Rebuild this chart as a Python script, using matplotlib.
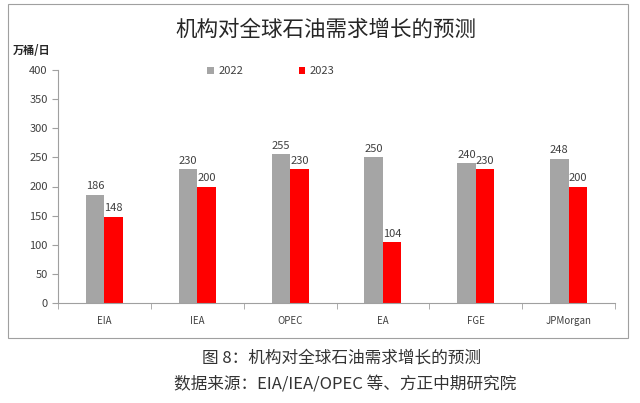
import numpy as np
import matplotlib.pyplot as plt
from matplotlib.patches import Rectangle

plt.rcParams['font.family'] = ['Noto Sans CJK SC', 'DejaVu Sans']

categories = ["EIA", "IEA", "OPEC", "EA", "FGE", "JPMorgan"]
y2022 = [186, 230, 255, 250, 240, 248]
y2023 = [148, 200, 230, 104, 230, 200]
yticks = [0, 50, 100, 150, 200, 250, 300, 350, 400]

fig = plt.figure(figsize=(6.4, 4.03), dpi=100)
# chart frame
fig.patches.append(Rectangle((8 / 640, 1 - 338 / 403), 620 / 640, 334 / 403,
                             transform=fig.transFigure, fill=False,
                             edgecolor="#a0a0a0", linewidth=0.8))

ax = fig.add_axes([58 / 640, 1 - 303 / 403, 557 / 640, 233 / 403])
x = np.arange(len(categories))
w = 0.2
b1 = ax.bar(x - w / 2, y2022, w, color="#a5a5a5", label="2022")
b2 = ax.bar(x + w / 2, y2023, w, color="#ff0000", label="2023")

for rect, v in zip(b1, y2022):
    ax.text(rect.get_x() + rect.get_width() / 2, v + 6, str(v), ha="center",
            va="bottom", fontsize=8, color="#404040")
for rect, v in zip(b2, y2023):
    ax.text(rect.get_x() + rect.get_width() / 2, v + 6, str(v), ha="center",
            va="bottom", fontsize=8, color="#404040")

ax.set_xlim(-0.5, len(categories) - 0.5)
ax.set_ylim(0, 400)
ax.set_yticks(yticks)
ax.set_xticks(x)
ax.set_xticklabels(categories, fontsize=7, color="#404040")
ax.set_xticks(np.arange(len(categories) + 1) - 0.5, minor=True)
ax.tick_params(axis="x", which="major", length=0, pad=9)
ax.tick_params(axis="x", which="minor", length=4, color="#a0a0a0")
ax.tick_params(axis="y", labelsize=8, labelcolor="#404040", length=4, color="#a0a0a0")
for s in ["top", "right"]:
    ax.spines[s].set_visible(False)
for s in ["left", "bottom"]:
    ax.spines[s].set_color("#a0a0a0")
    ax.spines[s].set_linewidth(0.8)

ax.legend(loc="upper left", bbox_to_anchor=(0.25, 1.06), ncol=2, frameon=False,
          fontsize=8, handlelength=0.6, handleheight=0.6, columnspacing=5,
          handletextpad=0.4, labelcolor="#404040")

fig.text(326 / 640, 1 - 30 / 403, "机构对全球石油需求增长的预测", ha="center", va="center",
         fontsize=15.5, color="#262626")
fig.text(13 / 640, 1 - 51 / 403, "万桶/日", ha="left", va="center", fontsize=8,
         fontweight="bold", color="#262626")

fig.text(342 / 640, 1 - 358 / 403, "图 8：机构对全球石油需求增长的预测", ha="center",
         va="center", fontsize=12, color="#333333")
fig.text(345 / 640, 1 - 384 / 403, "数据来源：EIA/IEA/OPEC 等、方正中期研究院", ha="center",
         va="center", fontsize=12, color="#333333")

fig.savefig("out.png", dpi=100)
